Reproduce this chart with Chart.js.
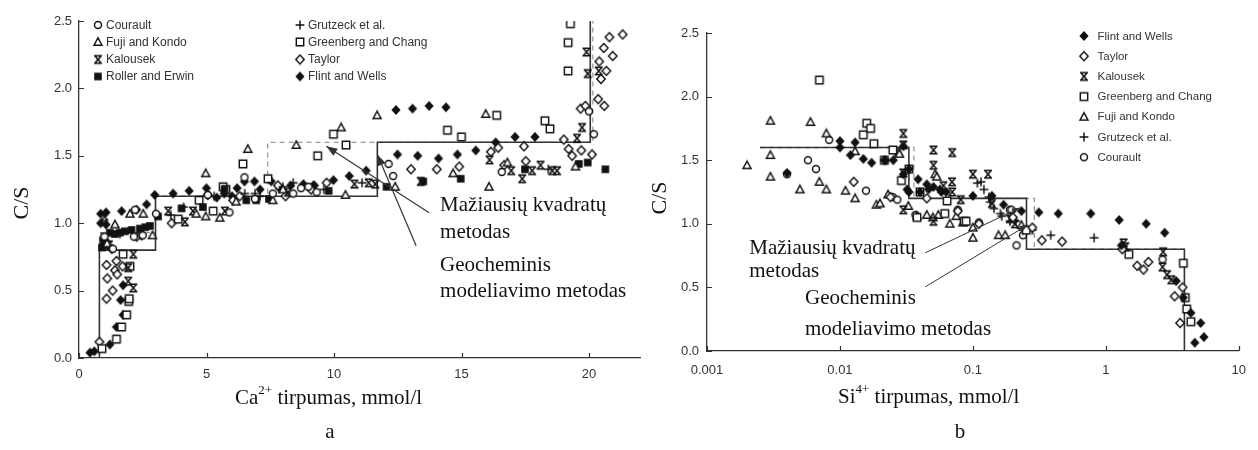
<!DOCTYPE html>
<html>
<head>
<meta charset="utf-8">
<script src="https://cdn.jsdelivr.net/npm/chart.js@4/dist/chart.umd.min.js"></script>
<style>
html, body { margin: 0; padding: 0; background: #fff; }
#wrap { position: relative; width: 1258px; height: 450px; }
canvas { position: absolute; top: 0; }
#ca { left: 0; }
#cb { left: 645px; }
</style>
</head>
<body>
<div id="wrap">
  <canvas id="ca" width="645" height="450"></canvas>
  <canvas id="cb" width="613" height="450"></canvas>
</div>
<script>
// ---- panel a: C/S vs Ca2+ (mmol/l) ----
const A_XTICKS = [0, 5, 10, 15, 20];
const Y_TICKS = [0, 0.5, 1.0, 1.5, 2.0, 2.5];

const A_COURAULT = [[1.0,0.9],[1.33,0.81],[2.15,0.9],[2.2,1.1],[2.5,0.91],[3.02,1.07],[5.05,1.21],[5.9,1.08],[6.49,1.34],[6.9,1.18],[7.6,1.22],[8.4,1.22],[8.71,1.26],[9.0,1.27],[9.32,1.23],[12.14,1.44],[12.32,1.35],[16.58,1.38],[20.0,1.83],[20.19,1.66]];
const A_FUJI = [[1.1,0.85],[1.41,0.99],[2.0,1.07],[2.52,1.07],[2.88,0.91],[4.6,1.07],[4.97,1.05],[4.97,1.37],[5.52,1.04],[6.16,1.16],[6.62,1.55],[7.6,1.17],[8.0,1.25],[8.52,1.58],[10.28,1.71],[10.45,1.21],[11.69,1.80],[12.4,1.27],[14.67,1.37],[15.95,1.81],[16.08,1.27],[16.8,1.45],[19.47,1.42]];
const A_KALOUSEK = [[1.0,1.05],[1.17,0.84],[1.93,0.57],[1.93,0.67],[2.13,0.52],[2.13,0.77],[3.5,1.09],[4.15,1.01],[4.47,1.09],[5.72,1.09],[8.2,1.23],[10.8,1.29],[11.36,1.30],[11.62,1.29],[13.4,1.31],[16.1,1.47],[16.95,1.39],[17.38,1.33],[17.77,1.39],[18.1,1.43],[18.56,1.39],[18.75,1.39],[19.53,1.63],[19.73,1.71],[19.9,2.27],[19.95,2.11],[20.38,2.13]];
const A_ROLLER = [[0.9,0.82],[0.95,0.87],[1.05,0.85],[1.0,0.9],[1.21,0.93],[1.4,0.92],[1.6,0.93],[1.8,0.94],[2.06,0.95],[2.39,0.96],[2.6,0.97],[2.78,0.98],[3.1,1.05],[4.02,1.11],[4.86,1.12],[5.71,1.25],[6.56,1.17],[6.95,1.17],[7.45,1.18],[9.79,1.24],[12.06,1.27],[13.5,1.31],[14.97,1.33],[17.49,1.40],[19.6,1.44],[19.95,1.45],[20.64,1.40]];
const A_GRUTZECK = [[1.6,0.92],[3.6,1.06],[4.1,1.12],[5.3,1.2],[6.5,1.22],[6.9,1.22],[7.1,1.2],[8.0,1.27],[8.4,1.3],[9.6,1.25],[11.1,1.3],[18.4,1.4]];
const A_GREENBERG = [[0.9,0.07],[1.47,0.14],[1.67,0.23],[1.87,0.32],[1.95,0.42],[1.97,0.44],[2.0,0.68],[1.73,0.77],[3.89,1.03],[4.71,1.17],[5.26,1.09],[5.65,1.27],[5.76,1.25],[6.43,1.44],[7.41,1.33],[9.36,1.50],[9.98,1.66],[10.47,1.58],[14.45,1.69],[15.0,1.64],[16.38,1.80],[18.27,1.76],[18.47,1.70],[19.18,2.13],[19.18,2.34],[19.27,2.48]];
const A_TAYLOR = [[0.8,0.12],[1.08,0.44],[1.11,0.59],[1.08,0.69],[1.32,0.50],[1.41,0.65],[1.47,0.72],[1.5,0.62],[1.71,0.68],[1.28,0.81],[2.26,0.90],[2.45,0.91],[3.63,1.0],[5.05,1.21],[6.04,1.17],[6.3,1.2],[7.8,1.28],[8.1,1.2],[9.1,1.25],[9.71,1.30],[13.02,1.40],[14.03,1.40],[14.91,1.42],[16.15,1.53],[16.44,1.56],[16.67,1.43],[17.45,1.57],[17.52,1.46],[19.01,1.62],[19.2,1.55],[19.34,1.50],[19.67,1.85],[19.7,1.54],[19.86,1.87],[20.12,1.51],[20.36,1.92],[20.47,2.07],[20.4,2.20],[20.6,1.87],[20.68,2.13],[20.58,2.30],[20.93,2.24],[20.8,2.38],[21.32,2.40]];
const A_FLINT = [[0.43,0.04],[0.6,0.05],[1.21,0.10],[1.47,0.23],[1.73,0.32],[1.63,0.43],[1.73,0.54],[0.85,1.0],[0.85,1.07],[1.06,0.99],[1.06,1.08],[1.67,1.09],[2.26,1.10],[2.65,1.14],[2.97,1.21],[3.69,1.22],[4.32,1.24],[5.0,1.26],[5.4,1.19],[5.7,1.22],[6.0,1.2],[6.2,1.26],[6.49,1.31],[6.88,1.31],[7.1,1.25],[7.54,1.31],[7.86,1.26],[8.3,1.28],[8.8,1.29],[9.19,1.28],[9.23,1.28],[9.98,1.32],[10.6,1.35],[11.26,1.39],[12.43,1.84],[12.49,1.51],[13.08,1.85],[13.28,1.50],[13.73,1.87],[14.1,1.48],[14.39,1.86],[14.84,1.51],[15.56,1.54],[16.34,1.60],[17.1,1.64],[17.88,1.64]];

// model step lines (solid = geochemical, dashed = least squares)
const A_GEO = [[0.8,0],[0.8,0.8],[3.0,0.8],[3.0,1.2],[11.7,1.2],[11.7,1.6],[20.05,1.6],[20.05,2.5]];
const A_LSQ = [[0.8,0.8],[0.8,0.93],[3.0,0.93],[3.0,1.2],[7.4,1.2],[7.4,1.6],[20.15,1.6],[20.15,2.5]];

// ---- panel b: C/S vs Si4+ (mmol/l), log x ----
const B_XTICKS = [0.001, 0.01, 0.1, 1, 10];

const B_FLINT = [[0.004,1.40],[0.01,1.65],[0.01,1.60],[0.013,1.64],[0.012,1.54],[0.015,1.51],[0.0173,1.48],[0.0216,1.50],[0.022,1.50],[0.0252,1.50],[0.030,1.61],[0.030,1.39],[0.033,1.43],[0.0387,1.35],[0.033,1.25],[0.032,1.27],[0.040,1.25],[0.045,1.31],[0.0464,1.27],[0.0505,1.29],[0.0565,1.27],[0.058,1.25],[0.063,1.25],[0.1,1.22],[0.139,1.22],[0.17,1.15],[0.232,1.10],[0.313,1.09],[0.439,1.08],[0.77,1.08],[1.26,1.03],[1.31,0.83],[2.01,1.0],[2.77,0.93],[3.38,0.55],[3.83,0.42],[4.36,0.30],[5.17,0.22],[4.67,0.065],[5.47,0.11]];
const B_TAYLOR = [[0.0127,1.33],[0.024,1.21],[0.045,1.2],[0.077,1.10],[0.111,1.0],[0.2,1.05],[0.28,0.97],[0.33,0.87],[0.469,0.86],[1.33,0.80],[1.72,0.67],[1.92,0.64],[2.09,0.70],[3.29,0.43],[3.78,0.50],[3.62,0.22]];
const B_KALOUSEK = [[0.030,1.71],[0.030,1.62],[0.030,1.40],[0.030,1.11],[0.0505,1.58],[0.0505,1.46],[0.0505,1.02],[0.06,1.3],[0.070,1.56],[0.0697,1.33],[0.07,1.25],[0.081,1.19],[0.1,1.39],[0.13,1.39],[0.139,1.16],[0.19,1.04],[0.207,1.0],[1.36,0.85],[1.4,0.82],[2.7,0.78],[2.67,0.66],[2.89,0.60],[3.11,0.56]];
const B_GREENBERG = [[0.00701,2.13],[0.015,1.70],[0.0159,1.79],[0.0170,1.75],[0.018,1.63],[0.0216,1.50],[0.025,1.58],[0.029,1.34],[0.033,1.43],[0.038,1.05],[0.04,1.25],[0.0615,1.08],[0.064,1.18],[0.086,1.02],[0.089,1.02],[0.252,0.95],[1.49,0.76],[3.83,0.69],[3.96,0.42],[4.06,0.33],[4.36,0.23]];
const B_FUJI = [[0.002,1.46],[0.003,1.81],[0.003,1.54],[0.003,1.37],[0.005,1.27],[0.006,1.80],[0.007,1.33],[0.0079,1.71],[0.0079,1.27],[0.011,1.26],[0.013,1.57],[0.013,1.20],[0.0188,1.15],[0.02,1.16],[0.023,1.23],[0.0276,1.56],[0.028,1.55],[0.0327,1.14],[0.038,1.06],[0.045,1.07],[0.05,1.05],[0.052,1.39],[0.0535,1.37],[0.055,1.07],[0.067,1.0],[0.075,1.06],[0.084,1.01],[0.1,0.97],[0.1,0.89],[0.156,0.91],[0.175,0.91],[0.232,0.99]];
const B_GRUTZECK = [[0.108,1.32],[0.115,1.33],[0.121,1.27],[0.132,1.21],[0.135,1.17],[0.144,1.12],[0.161,1.08],[0.165,1.06],[0.19,1.02],[0.21,1.02],[0.238,0.95],[0.28,0.95],[0.385,0.91],[0.816,0.89]];
const B_COURAULT = [[0.004,1.39],[0.00575,1.50],[0.0066,1.43],[0.0083,1.66],[0.0157,1.26],[0.025,1.21],[0.027,1.19],[0.037,1.07],[0.077,1.11],[0.111,1.01],[0.19,1.11],[0.195,1.11],[0.213,0.83],[0.238,0.91],[2.67,0.72]];

const B_GEO = [[0.0025,1.6],[0.033,1.6],[0.033,1.2],[0.253,1.2],[0.253,0.8],[3.9,0.8],[3.9,0]];
const B_LSQ = [[0.0025,1.6],[0.036,1.6],[0.036,1.2],[0.29,1.2],[0.29,0.8],[3.9,0.8]];

const INK = '#111';
const SANS = 'Liberation Sans, Arial, sans-serif';
const SERIF = 'Liberation Serif, Times New Roman, serif';

// marker glyphs drawn on small canvases, used as pointStyle
function marker(kind) {
  const c = document.createElement('canvas');
  c.width = 12; c.height = 12;
  const g = c.getContext('2d');
  const m = 6;
  g.strokeStyle = INK; g.fillStyle = '#fff'; g.lineWidth = 1.45;
  g.beginPath();
  switch (kind) {
    case 'circle': g.arc(m, m, 3.5, 0, 2 * Math.PI); g.fill(); g.stroke(); break;
    case 'triangle': g.moveTo(m, 1.8); g.lineTo(10, 9.2); g.lineTo(2, 9.2); g.closePath(); g.fill(); g.stroke(); break;
    case 'hourglass':
      g.lineWidth = 1.6;
      g.moveTo(2, 2.2); g.lineTo(10, 2.2); g.moveTo(2, 9.8); g.lineTo(10, 9.8);
      g.moveTo(2.8, 2.2); g.lineTo(9.2, 9.8); g.moveTo(9.2, 2.2); g.lineTo(2.8, 9.8); g.stroke(); break;
    case 'square': g.rect(2.2, 2.2, 7.6, 7.6); g.fillStyle = INK; g.fill(); break;
    case 'plus': g.moveTo(m, 1.6); g.lineTo(m, 10.4); g.moveTo(1.6, m); g.lineTo(10.4, m); g.stroke(); break;
    case 'osquare': g.rect(2.3, 2.3, 7.4, 7.4); g.fill(); g.stroke(); break;
    case 'odiamond': g.moveTo(m, 1.5); g.lineTo(10.2, m); g.lineTo(m, 10.5); g.lineTo(1.8, m); g.closePath(); g.fill(); g.stroke(); break;
    case 'diamond': g.moveTo(m, 0.9); g.lineTo(10.6, m); g.lineTo(m, 11.1); g.lineTo(1.4, m); g.closePath(); g.fillStyle = INK; g.fill(); break;
  }
  return c;
}

const MARK = {
  'Courault': marker('circle'),
  'Fuji and Kondo': marker('triangle'),
  'Kalousek': marker('hourglass'),
  'Roller and Erwin': marker('square'),
  'Grutzeck et al.': marker('plus'),
  'Greenberg and Chang': marker('osquare'),
  'Taylor': marker('odiamond'),
  'Flint and Wells': marker('diamond')
};

const pts = arr => arr.map(p => ({ x: p[0], y: p[1] }));

function scatterSet(name, arr) {
  return { label: name, data: pts(arr), pointStyle: MARK[name], pointRadius: 4, order: 1 };
}
function stepSet(arr, dashed) {
  return {
    label: dashed ? 'lsq' : 'geo', data: pts(arr), showLine: true, pointRadius: 0,
    borderColor: dashed ? '#9a9a9a' : '#333', borderWidth: dashed ? 1.3 : 1.6,
    borderDash: dashed ? [5, 4] : [], order: dashed ? 11 : 10, fill: false
  };
}

// inward tick marks
const inwardTicks = {
  id: 'inwardTicks',
  afterDraw(chart) {
    const { ctx, chartArea: a, scales: { x, y } } = chart;
    ctx.save();
    ctx.strokeStyle = '#333'; ctx.lineWidth = 1.2;
    ctx.beginPath();
    x.ticks.forEach(t => { const p = Math.round(x.getPixelForValue(t.value)) + 0.5; ctx.moveTo(p, a.bottom); ctx.lineTo(p, a.bottom - 5); });
    y.ticks.forEach(t => { const p = Math.round(y.getPixelForValue(t.value)) + 0.5; ctx.moveTo(a.left, p); ctx.lineTo(a.left + 5, p); });
    ctx.stroke();
    ctx.restore();
  }
};

function richText(ctx, parts, x, y, size) {
  let cx = x;
  parts.forEach(p => {
    const s = p.sup ? size * 0.62 : size;
    ctx.font = s + 'px ' + SERIF;
    ctx.fillText(p.t, cx, p.sup ? y - size * 0.33 : y);
    cx += ctx.measureText(p.t).width;
  });
}

function arrowLine(ctx, x1, y1, x2, y2, head) {
  ctx.beginPath(); ctx.moveTo(x1, y1); ctx.lineTo(x2, y2); ctx.stroke();
  const ang = Math.atan2(y2 - y1, x2 - x1);
  ctx.beginPath();
  ctx.moveTo(x2, y2);
  ctx.lineTo(x2 - head * Math.cos(ang) + head * 0.38 * Math.sin(ang), y2 - head * Math.sin(ang) - head * 0.38 * Math.cos(ang));
  ctx.lineTo(x2 - head * Math.cos(ang) - head * 0.38 * Math.sin(ang), y2 - head * Math.sin(ang) + head * 0.38 * Math.cos(ang));
  ctx.closePath(); ctx.fill();
}

// annotations, legend, titles
function decorPlugin(cfg) {
  return {
    id: 'decor',
    afterDraw(chart) {
      const { ctx, scales: { x, y } } = chart;
      const px = v => x.getPixelForValue(v), py = v => y.getPixelForValue(v);
      ctx.save();
      // legend
      ctx.font = cfg.legendFont + 'px ' + SANS;
      ctx.fillStyle = '#333'; ctx.textBaseline = 'middle'; ctx.textAlign = 'left';
      cfg.legend.forEach(e => {
        const img = MARK[e.name];
        ctx.drawImage(img, e.x - img.width / 2, e.y - img.height / 2);
        ctx.fillText(e.name, e.x + cfg.legendGap, e.y + 0.5);
      });
      // arrows
      ctx.strokeStyle = '#333'; ctx.fillStyle = '#333'; ctx.lineWidth = cfg.arrowWidth;
      cfg.arrows.forEach(a => arrowLine(ctx, px(a.from[0]), py(a.from[1]), px(a.to[0]), py(a.to[1]), cfg.head));
      // annotation text
      ctx.fillStyle = '#111'; ctx.font = '21px ' + SERIF;
      cfg.notes.forEach(n => ctx.fillText(n.t, px(n.x), py(n.y)));
      // axis titles
      richText(ctx, cfg.xTitle, cfg.xTitleAt[0], cfg.xTitleAt[1], 21);
      ctx.font = '21px ' + SERIF; ctx.textAlign = 'center';
      ctx.fillText(cfg.panel, cfg.panelAt[0], cfg.panelAt[1]);
      ctx.translate(cfg.yTitleAt[0], cfg.yTitleAt[1]);
      ctx.rotate(-Math.PI / 2);
      ctx.font = '22px ' + SERIF;
      ctx.fillText('C/S', 0, 0);
      ctx.restore();
    }
  };
}

const tickFont = { family: SANS, size: 13 };

function makeChart(id, opt) {
  return new Chart(document.getElementById(id), {
    type: 'scatter',
    data: { datasets: opt.datasets },
    options: {
      responsive: false, animation: false,
      layout: { padding: opt.padding },
      plugins: { legend: { display: false }, tooltip: { enabled: false } },
      scales: {
        x: Object.assign({
          afterBuildTicks: s => { s.ticks = opt.xTicks.map(v => ({ value: v })); },
          afterFit: s => { s.height = opt.xHeight; },
          grid: { display: false, drawTicks: false },
          border: { color: '#333', width: 1.3 },
          ticks: { font: tickFont, color: '#333', padding: opt.xPad, autoSkip: false, maxRotation: 0, callback: v => String(v) }
        }, opt.xScale),
        y: {
          min: 0, max: 2.5,
          afterBuildTicks: s => { s.ticks = Y_TICKS.map(v => ({ value: v })); },
          afterFit: s => { s.width = opt.yWidth; },
          grid: { display: false, drawTicks: false },
          border: { color: '#333', width: 1.3 },
          ticks: { font: tickFont, color: '#333', padding: opt.yPad, callback: v => v.toFixed(1) }
        }
      }
    },
    plugins: [inwardTicks, decorPlugin(opt.decor)]
  });
}

makeChart('ca', {
  datasets: [
    stepSet(A_LSQ, true), stepSet(A_GEO, false),
    scatterSet('Courault', A_COURAULT), scatterSet('Fuji and Kondo', A_FUJI),
    scatterSet('Kalousek', A_KALOUSEK), scatterSet('Roller and Erwin', A_ROLLER),
    scatterSet('Grutzeck et al.', A_GRUTZECK), scatterSet('Greenberg and Chang', A_GREENBERG),
    scatterSet('Taylor', A_TAYLOR), scatterSet('Flint and Wells', A_FLINT)
  ],
  padding: { left: 0, right: 4, top: 21, bottom: 0 },
  xScale: { type: 'linear', min: 0, max: 22 },
  xTicks: A_XTICKS, xHeight: 92, yWidth: 79, xPad: 9, yPad: 7,
  decor: {
    legendFont: 12, legendGap: 8,
    legend: [
      { name: 'Courault', x: 98, y: 25 }, { name: 'Fuji and Kondo', x: 98, y: 42 },
      { name: 'Kalousek', x: 98, y: 59.5 }, { name: 'Roller and Erwin', x: 98, y: 76.5 },
      { name: 'Grutzeck et al.', x: 300, y: 25 }, { name: 'Greenberg and Chang', x: 300, y: 42 },
      { name: 'Taylor', x: 300, y: 59.5 }, { name: 'Flint and Wells', x: 300, y: 76.5 }
    ],
    arrowWidth: 1.2, head: 11,
    arrows: [{ from: [13.73, 1.077], to: [9.70, 1.57] }, { from: [13.22, 0.832], to: [11.70, 1.51] }],
    notes: [
      { t: 'Mažiausių kvadratų', x: 14.16, y: 1.129 }, { t: 'metodas', x: 14.16, y: 0.929 },
      { t: 'Geocheminis', x: 14.16, y: 0.683 }, { t: 'modeliavimo metodas', x: 14.16, y: 0.49 }
    ],
    xTitle: [{ t: 'Ca' }, { t: '2+', sup: true }, { t: ' tirpumas, mmol/l' }],
    xTitleAt: [235, 398], panel: 'a', panelAt: [330, 432], yTitleAt: [22, 203]
  }
});

makeChart('cb', {
  datasets: [
    stepSet(B_LSQ, true), stepSet(B_GEO, false),
    scatterSet('Flint and Wells', B_FLINT), scatterSet('Taylor', B_TAYLOR),
    scatterSet('Kalousek', B_KALOUSEK), scatterSet('Greenberg and Chang', B_GREENBERG),
    scatterSet('Fuji and Kondo', B_FUJI), scatterSet('Grutzeck et al.', B_GRUTZECK),
    scatterSet('Courault', B_COURAULT)
  ],
  padding: { left: 0, right: 7, top: 33, bottom: 0 },
  xScale: { type: 'logarithmic', min: 0.001, max: 10 },
  xTicks: B_XTICKS, xHeight: 99, yWidth: 62, xPad: 12, yPad: 8,
  decor: {
    legendFont: 11.5, legendGap: 13.5,
    legend: ['Flint and Wells', 'Taylor', 'Kalousek', 'Greenberg and Chang', 'Fuji and Kondo', 'Grutzeck et al.', 'Courault']
      .map((n, i) => ({ name: n, x: 439, y: 36 + i * 20.2 })),
    arrowWidth: 1.0, head: 8,
    arrows: [{ from: [0.0438, 0.772], to: [0.226, 1.126] }, { from: [0.0438, 0.504], to: [0.259, 0.992] }],
    notes: [
      { t: 'Mažiausių kvadratų', x: 0.00208, y: 0.803 }, { t: 'metodas', x: 0.00208, y: 0.622 },
      { t: 'Geocheminis', x: 0.00546, y: 0.409 }, { t: 'modeliavimo metodas', x: 0.00546, y: 0.173 }
    ],
    xTitle: [{ t: 'Si' }, { t: '4+', sup: true }, { t: ' tirpumas, mmol/l' }],
    xTitleAt: [193, 397], panel: 'b', panelAt: [315, 432], yTitleAt: [15, 198]
  }
});
</script>
</body>
</html>
